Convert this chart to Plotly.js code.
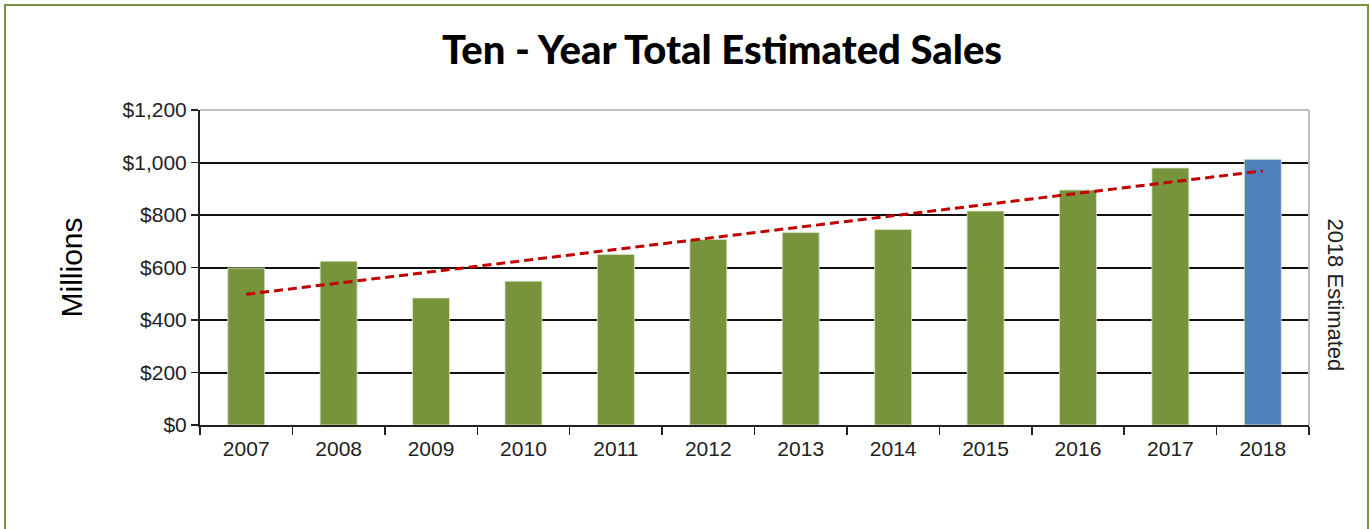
<!DOCTYPE html>
<html>
<head>
<meta charset="utf-8">
<script src="https://cdn.plot.ly/plotly-3.0.1.min.js"></script>
<style>
  html, body { margin: 0; padding: 0; background: #fff; }
  #wrap { position: relative; width: 1370px; height: 529px; overflow: hidden; }
  #chart { width: 1370px; height: 529px; }
  #frame { position: absolute; left: 4px; top: 4px; width: 1361px; height: 540px;
           border: 2px solid #77933C; pointer-events: none; }
</style>
</head>
<body>
<div id="wrap">
  <div id="chart"></div>
  <div id="frame"></div>
</div>
<script>
// Data (millions of dollars)
const years = ['2007','2008','2009','2010','2011','2012','2013','2014','2015','2016','2017','2018'];
const sales = [598, 624, 484, 548, 650, 707, 733, 745, 815, 895, 979, 1012];
const barColors = ['#77933C','#77933C','#77933C','#77933C','#77933C','#77933C',
                   '#77933C','#77933C','#77933C','#77933C','#77933C','#4F81BD'];
const trendYears = ['2007', '2018'];
const trendValues = [498, 968];
const yTickVals = [0, 200, 400, 600, 800, 1000, 1200];
const yTickText = ['$0','$200','$400','$600','$800','$1,000','$1,200'];

const traces = [
  {
    type: 'bar',
    x: years,
    y: sales,
    marker: { color: barColors, line: { color: 'rgba(220,230,200,0.8)', width: 1 } },
    hoverinfo: 'x+y',
    showlegend: false
  },
  {
    type: 'scatter',
    mode: 'lines',
    x: trendYears,
    y: trendValues,
    line: { color: '#C00000', width: 3, dash: '9px,5px' },
    hoverinfo: 'skip',
    showlegend: false
  }
];

const layout = {
  width: 1370,
  height: 529,
  margin: { l: 200, r: 61, t: 110, b: 104 },
  paper_bgcolor: '#ffffff',
  plot_bgcolor: '#ffffff',
  font: { family: 'Liberation Sans, Arial, sans-serif', color: '#222222' },
  bargap: 0.6,
  title: {
    text: 'Ten - Year Total Estimated Sales',
    font: { family: 'Lato, sans-serif', size: 40, color: '#000000', weight: 900 },
    x: 0.527, xanchor: 'center', xref: 'container',
    y: 0.905, yanchor: 'middle', yref: 'container'
  },
  xaxis: {
    type: 'category',
    tickson: 'boundaries',
    ticks: 'outside',
    ticklen: 8,
    tickwidth: 1.5,
    tickcolor: '#222222',
    showline: true,
    linecolor: '#222222',
    linewidth: 2,
    tickfont: { size: 21, color: '#222222' },
    ticklabelstandoff: 4,
    showgrid: false,
    zeroline: false,
    fixedrange: true
  },
  yaxis: {
    range: [0, 1200],
    tickvals: yTickVals,
    ticktext: yTickText,
    ticks: 'outside',
    ticklen: 7,
    tickwidth: 1.5,
    tickcolor: '#222222',
    showline: true,
    linecolor: '#222222',
    linewidth: 2,
    showgrid: true,
    gridcolor: '#111111',
    gridwidth: 2,
    zeroline: false,
    tickfont: { size: 21, color: '#222222' },
    title: { text: 'Millions', font: { size: 30, color: '#000000' }, standoff: 31 },
    fixedrange: true
  },
  shapes: [
    { type: 'line', xref: 'paper', yref: 'paper', x0: 0, x1: 1, y0: 1, y1: 1,
      line: { color: '#BFBFBF', width: 2 } },
    { type: 'line', xref: 'paper', yref: 'paper', x0: 1, x1: 1, y0: 0, y1: 1,
      line: { color: '#BFBFBF', width: 2 } }
  ],
  annotations: [
    {
      text: '2018 Estimated',
      xref: 'paper', yref: 'paper',
      x: 1.0, y: 0.413,
      xanchor: 'left', yanchor: 'middle',
      xshift: 12,
      textangle: 90,
      showarrow: false,
      font: { size: 22, color: '#222222' }
    }
  ]
};

Plotly.newPlot('chart', traces, layout, { displayModeBar: false, staticPlot: true });
</script>
</body>
</html>
